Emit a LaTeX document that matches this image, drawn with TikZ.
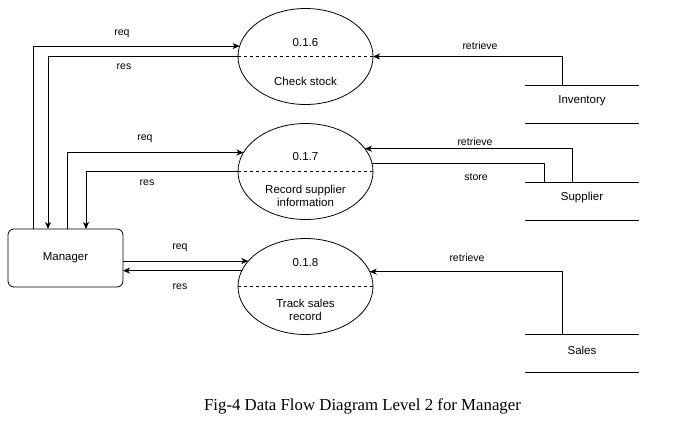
\documentclass[tikz,border=0pt]{standalone}
\usepackage{fontspec}
\setmainfont{Liberation Sans}
\newfontfamily\capfont{Liberation Serif}
\usetikzlibrary{shapes.geometric,arrows.meta,calc}
\begin{document}
\begin{tikzpicture}[x=1pt,y=-1pt,
  proc/.style={ellipse,draw,line width=0.8pt,minimum width=135pt,minimum height=96pt,inner sep=0pt,outer sep=0pt},
  store/.style={minimum width=114pt,minimum height=38pt,inner sep=0pt,outer sep=0pt},
  stxt/.style={font=\fontsize{11.5}{13}\selectfont},
  ent/.style={draw,rounded corners=6pt,line width=0.8pt,minimum width=115pt,minimum height=58pt,inner sep=0pt,outer sep=0pt,font=\fontsize{11.5}{13}\selectfont},
  ptxt/.style={font=\fontsize{11.5}{13.5}\selectfont,align=center},
  lbl/.style={font=\fontsize{10.5}{12}\selectfont},
  flow/.style={line width=0.8pt},
  arr/.style={flow,-{Stealth[length=7pt,width=6pt,inset=2pt]}}]
\useasboundingbox (0,0) rectangle (676,442);
\fill[white] (0,0) rectangle (676,442);

% processes
\node[proc] (e1) at (305.5,56.5) {};
\node[proc] (e2) at (305.5,171.5) {};
\node[proc] (e3) at (305.5,286.5) {};
\foreach \e in {e1,e2,e3}{\draw[dashed,line width=0.7pt] (\e.west) -- (\e.east);}
\node[ptxt] (n1) at (305.5,43) {0.1.6};
\node[ptxt] (t1) at (305.5,81.5) {Check stock};
\node[ptxt] (n2) at (305.5,157) {0.1.7};
\node[ptxt] (t2) at (305.5,196) {Record supplier\\information};
\node[ptxt] (n3) at (305.5,263) {0.1.8};
\node[ptxt] (t3) at (305.5,310) {Track sales\\record};

% manager
\node[ent] (mgr) at (65.5,258) {Manager};

% data stores
\node[store] (inv) at (582,104) {};
\node[store] (sup) at (582,201) {};
\node[store] (sal) at (582,353.5) {};
\foreach \s in {inv,sup,sal}{
  \draw[line width=0.8pt] (\s.north west) -- (\s.north east) (\s.south west) -- (\s.south east);}
\node[stxt] (invt) at (582,101) {Inventory};
\node[stxt] (supt) at (582,197.5) {Supplier};
\node[stxt] (salt) at (582,350) {Sales};

% manager flows
\draw[arr] ([xshift=-32.5pt]mgr.north) |- (e1.171.3);
\draw[arr] (e1.west) -| ([xshift=-17.5pt]mgr.north);
\draw[arr] ([xshift=1.5pt]mgr.north) |- (e2.163.8);
\draw[arr] (e2.west) -| ([xshift=20.5pt]mgr.north);
\draw[arr] (e3.156.4 -| mgr.east) -- (e3.156.4);
\draw[arr] (e3.166.7) -- (e3.166.7 -| mgr.east);

\node[lbl] (l1) at (122,34) {req};
\node[lbl] (l2) at (124,67) {res};
\node[lbl] (l3) at (145,139) {req};
\node[lbl] (l4) at (147,183) {res};
\node[lbl] (l5) at (180,248) {req};
\node[lbl] (l6) at (180,287) {res};

% store flows
\draw[arr] ([xshift=-20pt]inv.north) |- (e1.east);
\draw[arr] ([xshift=-10pt]sup.north) |- (e2.21.4);
\draw[flow] (e2.7.8) -| ([xshift=-38pt]sup.north);
\draw[arr] ([xshift=-20pt]sal.north) |- (e3.13.3);

\node[lbl] (r1) at (480,46) {retrieve};
\node[lbl] (r2) at (475,142) {retrieve};
\node[lbl] (s2) at (476,177) {store};
\node[lbl] (r3) at (467,258) {retrieve};

% caption
\node[font=\capfont\fontsize{16.8}{18}\selectfont] (cap) at (362.5,406) {Fig-4 Data Flow Diagram Level 2 for Manager};
\end{tikzpicture}
\end{document}
